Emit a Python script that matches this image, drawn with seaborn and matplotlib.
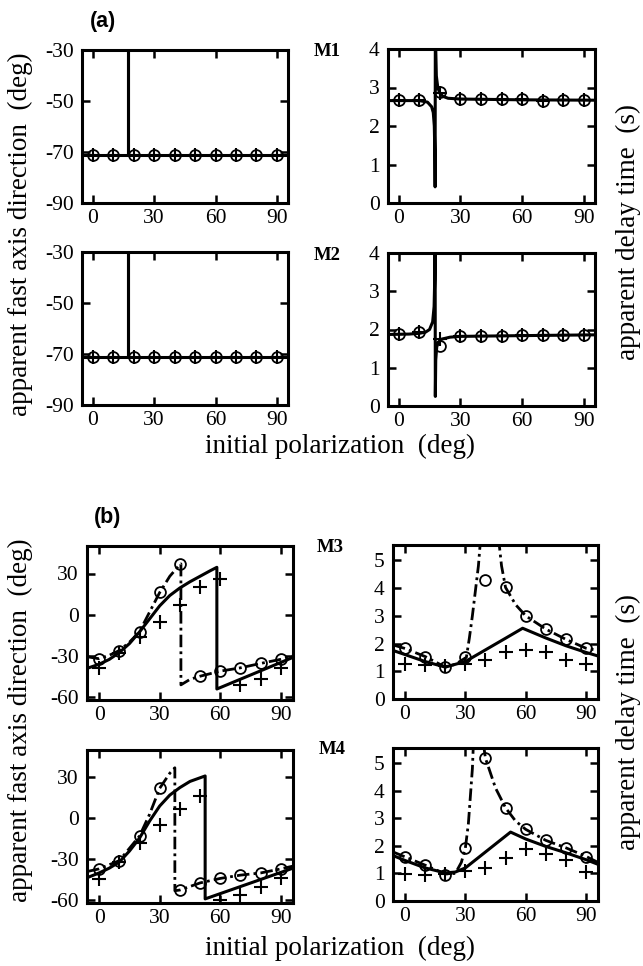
import numpy as np
import pandas as pd
import matplotlib
matplotlib.use("Agg")
import matplotlib.pyplot as plt
import seaborn as sns

# ---------------- data ----------------
pol = [0, 10, 20, 30, 40, 50, 60, 70, 80, 90]
xticks = [0, 30, 60, 90]

# (a) M1
m1_fast_circ = [-71, -71, -71, -71, -71, -71, -71, -71, -71, -71]
m1_fast_plus = [-71, -71, -71, -71, -71, -71, -71, -71, -71, -71]
m1_fast_line_x = [-5, 17.5, 17.5, 17.5, 95]
m1_fast_line_y = [-71, -71, -20, -71, -71]
m1_dt_circ = [2.67, 2.67, 2.88, 2.7, 2.7, 2.7, 2.7, 2.66, 2.67, 2.67]
m1_dt_plus = [2.67, 2.67, 2.85, 2.7, 2.7, 2.7, 2.7, 2.66, 2.67, 2.67]
m1_dt_line_x = [-5, 10, 14, 16, 16.8, 17.3, 17.6, 17.7, 17.8, 18.3, 19.0, 20.0, 21.5, 24, 30, 60, 95]
m1_dt_line_y = [2.66, 2.66, 2.62, 2.5, 2.35, 2.0, 1.2, 0.42, 4.5, 3.3, 3.0, 2.85, 2.77, 2.72, 2.7, 2.68, 2.67]

# (a) M2
m2_fast_circ = [-71, -71, -71, -71, -71, -71, -71, -71, -71, -71]
m2_fast_plus = [-71, -71, -71, -71, -71, -71, -71, -71, -71, -71]
m2_fast_line_x = [-5, 17.5, 17.5, 17.5, 95]
m2_fast_line_y = [-71, -71, -20, -71, -71]
m2_dt_circ = [1.87, 1.93, 1.56, 1.82, 1.82, 1.82, 1.85, 1.85, 1.85, 1.85]
m2_dt_plus = [1.87, 1.93, 1.75, 1.82, 1.82, 1.82, 1.85, 1.85, 1.85, 1.85]
m2_dt_line_x = [-5, 5, 10, 13, 15, 16.5, 17.2, 17.5, 17.7, 17.8, 18.0, 18.5, 19.5, 21, 25, 30, 60, 95]
m2_dt_line_y = [1.87, 1.88, 1.9, 1.93, 2.0, 2.2, 2.6, 3.3, 4.5, 0.25, 1.2, 1.55, 1.68, 1.75, 1.8, 1.82, 1.84, 1.86]

# (b) M3
m3_fast_circ = [-32.4, -26, -12.3, 16.2, 36.9, -44.7, -41, -38.6, -35.4, -32.4]
m3_fast_plus = [-38.5, -27.5, -16.5, -5, 7, 20.5, 26, -51, -46.5, -38.5]
m3_fast_solid_x = [-6, 0, 5, 10, 15, 20, 25, 30, 35, 40, 45, 50, 55, 58.3, 58.3, 96]
m3_fast_solid_y = [-39, -36, -32.5, -27.5, -21, -12.5, -3, 6.5, 14, 19.5, 24, 28, 32, 34.5, -54, -31]
m3_fast_dash_x = [-6, 0, 5, 10, 15, 20, 25, 30, 35, 40, 40.5, 40.5, 45, 50, 60, 70, 80, 90, 96]
m3_fast_dash_y = [-30.5, -32, -29.5, -26, -20, -12.3, 2, 16.2, 28, 36.5, 37, -51, -47, -44.7, -41, -38.6, -35.4, -32.4, -30]
m3_dt_circ = [1.82, 1.53, 1.15, 1.5, 4.3, 4.02, 3.0, 2.52, 2.15, 1.83]
m3_dt_plus = [1.27, 1.22, 1.2, 1.25, 1.4, 1.7, 1.78, 1.7, 1.4, 1.27]
m3_dt_solid_x = [-6, 0, 10, 20, 30, 40, 50, 58.5, 70, 80, 90, 96]
m3_dt_solid_y = [1.75, 1.6, 1.35, 1.15, 1.35, 1.77, 2.19, 2.55, 2.2, 1.92, 1.68, 1.55]
m3_dt_dash_l_x = [-6, 0, 10, 20, 25, 30.5, 32, 33.5, 35, 36.5, 37.5]
m3_dt_dash_l_y = [1.95, 1.82, 1.53, 1.15, 1.25, 1.5, 2.2, 3.0, 3.9, 4.8, 5.7]
m3_dt_dash_r_x = [46.5, 48, 50, 55, 60, 70, 80, 90, 96]
m3_dt_dash_r_y = [5.8, 4.8, 4.02, 3.4, 3.0, 2.52, 2.15, 1.83, 1.75]

# (b) M4
m4_fast_circ = [-37, -31, -13, 22, -52.5, -47.3, -44, -41.6, -40, -37]
m4_fast_plus = [-44.3, -32.2, -18.2, -5, 7, 16, -59.5, -55.8, -50.5, -44]
m4_fast_solid_x = [-6, 0, 5, 10, 15, 20, 25, 30, 35, 40, 45, 52.5, 52.5, 96]
m4_fast_solid_y = [-43.5, -40, -36.5, -32, -24, -14.5, -2, 9, 17, 22.5, 27, 31, -59, -36.5]
m4_fast_dash_x = [-6, 0, 10, 20, 25, 30, 35, 37.5, 37.5, 40, 50, 60, 70, 80, 90, 96]
m4_fast_dash_y = [-39, -37, -31, -13, 3, 22, 33, 37, -53, -52.5, -47.3, -44, -41.6, -40, -37, -35]
m4_dt_circ = [1.6, 1.3, 0.95, 1.92, 5.18, 3.38, 2.6, 2.2, 1.93, 1.6]
m4_dt_plus = [0.98, 0.95, 0.98, 1.08, 1.2, 1.55, 1.87, 1.7, 1.5, 1.07]
m4_dt_solid_x = [-6, 0, 10, 20, 25, 30, 52.5, 60, 70, 80, 90, 96]
m4_dt_solid_y = [1.65, 1.47, 1.2, 1.02, 1.05, 1.2, 2.5, 2.25, 1.98, 1.75, 1.5, 1.33]
m4_dt_dash_l_x = [-6, 0, 10, 20, 25, 28, 30, 31.5, 32.5, 33.5, 34]
m4_dt_dash_l_y = [1.78, 1.6, 1.3, 0.98, 1.0, 1.4, 1.92, 2.8, 3.8, 4.8, 5.7]
m4_dt_dash_r_x = [39, 40, 45, 50, 55, 60, 70, 80, 90, 96]
m4_dt_dash_r_y = [5.7, 5.18, 4.1, 3.38, 2.9, 2.6, 2.2, 1.93, 1.62, 1.4]

# ---------------- style ----------------
sns.set_theme(style="ticks")
plt.rcParams["font.family"] = ["Liberation Serif", "DejaVu Serif"]
plt.rcParams["axes.unicode_minus"] = False
for k in ["text.color", "axes.labelcolor", "xtick.color", "ytick.color", "axes.edgecolor"]:
    plt.rcParams[k] = "black"

W, H = 643, 966
fig = plt.figure(figsize=(W / 100, H / 100), dpi=100)

def add_ax(x0, y0, x1, y1):
    return fig.add_axes([x0 / W, 1 - y1 / H, (x1 - x0) / W, (y1 - y0) / H])

LW = 2.2
DASH = (0, (4.5, 1.5, 1, 1.5))

def style_ax(ax, xlim, ylim, yticks):
    ax.set_xlim(*xlim)
    ax.set_ylim(*ylim)
    ax.set_xticks(xticks)
    ax.set_yticks(yticks)
    ax.tick_params(direction="in", length=6, width=1.8, top=True, right=True,
                   labelsize=15.5, colors="black")
    ax.tick_params(axis="x", pad=4.5)
    ax.tick_params(axis="y", pad=6)
    for s in ax.spines.values():
        s.set_linewidth(2.2)
        s.set_color("black")
    ax.set_xlabel("")
    ax.set_ylabel("")
    leg = ax.get_legend()
    if leg is not None:
        leg.remove()

def line(ax, x, y, dashed=False):
    sns.lineplot(x=x, y=y, ax=ax, color="black", linewidth=LW if not dashed else 2.0,
                 linestyle=DASH if dashed else "-", sort=False, estimator=None,
                 legend=False)

def markers(ax, circ, plus):
    sns.lineplot(x=pol, y=circ, ax=ax, color="black", linestyle="", marker="o",
                 markersize=7.8, markerfacecolor="none", markeredgecolor="black",
                 markeredgewidth=1.3, sort=False, estimator=None, legend=False)
    sns.lineplot(x=pol, y=plus, ax=ax, color="black", linestyle="", marker="+",
                 markersize=9.5, markeredgecolor="black", markeredgewidth=1.5,
                 sort=False, estimator=None, legend=False)

# ---------------- panel (a) ----------------
xa = (-5.2, 95.4)
ax = add_ax(82, 50, 288, 203)
line(ax, m1_fast_line_x, m1_fast_line_y)
markers(ax, m1_fast_circ, m1_fast_plus)
style_ax(ax, xa, (-90, -30), [-90, -70, -50, -30])

ax = add_ax(388, 49, 595, 203)
line(ax, m1_dt_line_x, m1_dt_line_y)
markers(ax, m1_dt_circ, m1_dt_plus)
style_ax(ax, xa, (0, 4), [0, 1, 2, 3, 4])

ax = add_ax(82, 252, 288, 405)
line(ax, m2_fast_line_x, m2_fast_line_y)
markers(ax, m2_fast_circ, m2_fast_plus)
style_ax(ax, xa, (-90, -30), [-90, -70, -50, -30])

ax = add_ax(388, 253, 595, 406)
line(ax, m2_dt_line_x, m2_dt_line_y)
markers(ax, m2_dt_circ, m2_dt_plus)
style_ax(ax, xa, (0, 4), [0, 1, 2, 3, 4])

# ---------------- panel (b) ----------------
xb = (-6, 96)
ax = add_ax(87, 546, 293, 700)
line(ax, m3_fast_solid_x, m3_fast_solid_y)
line(ax, m3_fast_dash_x, m3_fast_dash_y, dashed=True)
markers(ax, m3_fast_circ, m3_fast_plus)
style_ax(ax, xb, (-62, 50), [-60, -30, 0, 30])

ax = add_ax(393, 545, 598, 699)
line(ax, m3_dt_solid_x, m3_dt_solid_y)
line(ax, m3_dt_dash_l_x, m3_dt_dash_l_y, dashed=True)
line(ax, m3_dt_dash_r_x, m3_dt_dash_r_y, dashed=True)
markers(ax, m3_dt_circ, m3_dt_plus)
style_ax(ax, xb, (0, 5.55), [0, 1, 2, 3, 4, 5])

ax = add_ax(87, 750, 293, 903)
line(ax, m4_fast_solid_x, m4_fast_solid_y)
line(ax, m4_fast_dash_x, m4_fast_dash_y, dashed=True)
markers(ax, m4_fast_circ, m4_fast_plus)
style_ax(ax, xb, (-62, 50), [-60, -30, 0, 30])

ax = add_ax(393, 748, 598, 901)
line(ax, m4_dt_solid_x, m4_dt_solid_y)
line(ax, m4_dt_dash_l_x, m4_dt_dash_l_y, dashed=True)
line(ax, m4_dt_dash_r_x, m4_dt_dash_r_y, dashed=True)
markers(ax, m4_dt_circ, m4_dt_plus)
style_ax(ax, xb, (0, 5.55), [0, 1, 2, 3, 4, 5])

# ---------------- texts ----------------
def ftext(x, y, s, **kw):
    fig.text(x / W, 1 - y / H, s, **kw)

ftext(103, 22, "(a)", fontsize=15.5, fontweight="bold", family=["Liberation Sans"],
      ha="center", va="center")
ftext(108, 518, "(b)", fontsize=15.5, fontweight="bold", family=["Liberation Sans"],
      ha="center", va="center")
for (x, y, s) in [(327, 52, "M1"), (327, 256, "M2"), (330, 548, "M3"), (332, 750, "M4")]:
    ftext(x, y, s, fontsize=13.5, fontweight="bold", ha="center", va="center")

ylab_l = "apparent fast axis direction  (deg)"
ylab_r = "apparent delay time  (s)"
xlab = "initial polarization  (deg)"
FS = 19.5
ftext(20, 234, ylab_l, fontsize=FS, rotation=90, ha="center", va="center")
ftext(628, 232, ylab_r, fontsize=FS, rotation=90, ha="center", va="center")
ftext(340, 446, xlab, fontsize=FS, ha="center", va="center")
ftext(20, 720, ylab_l, fontsize=FS, rotation=90, ha="center", va="center")
ftext(628, 722, ylab_r, fontsize=FS, rotation=90, ha="center", va="center")
ftext(340, 948, xlab, fontsize=FS, ha="center", va="center")

fig.savefig("out.png", dpi=100, facecolor="white")
